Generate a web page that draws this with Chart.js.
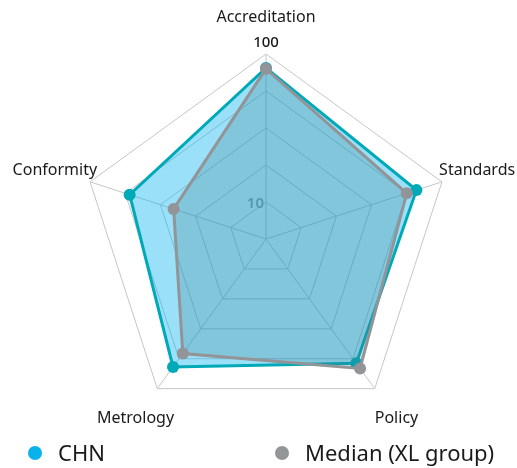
<!DOCTYPE html>
<html>
<head>
<meta charset="utf-8">
<script src="https://cdn.jsdelivr.net/npm/chart.js@4/dist/chart.umd.min.js"></script>
<style>
  html, body { margin: 0; padding: 0; background: #fff; }
  #wrap { position: relative; width: 517px; height: 468px; }
  #legend { position: absolute; left: 0; top: 438px; width: 517px; height: 28px;
            font-family: "Noto Sans", sans-serif; font-size: 22px; color: #1a1a1a; }
  .item { position: absolute; top: 0; height: 28px; line-height: 28px; white-space: nowrap; }
  .dot { display: inline-block; width: 14px; height: 14px; border-radius: 50%;
         vertical-align: middle; margin-right: 16px; position: relative; top: -2px; }
</style>
</head>
<body>
<div id="wrap">
  <canvas id="radar"></canvas>
  <div id="legend"></div>
</div>
<script>
// axes of the web, clockwise from the top
var categories = ['Accreditation', 'Standards', 'Policy', 'Metrology', 'Conformity'];

var chnValues = [92.5, 85.5, 83, 85.5, 77.5];
var medianValues = [92, 80, 86.5, 76.5, 52.5];

// labels written along the top axis
var scaleTickValues = [20, 100];
var scaleTickLabels = ['10', '100'];

var seriesNames = ['CHN', 'Median (XL group)'];
var legendColors = ['#0ab2ec', '#939598'];

// draws the category names and the two scale labels through the r scale
var axisText = {
  id: 'axisText',
  beforeDatasetsDraw: function(chart) {
    var r = chart.scales.r;
    var ctx = chart.ctx;
    ctx.save();
    ctx.textBaseline = 'middle';

    ctx.font = '16px "Noto Sans"';
    ctx.fillStyle = '#1a1a1a';
    ctx.textAlign = 'center';
    categories.forEach(function(name, i) {
      var p = r.getPointPosition(i, r.drawingArea * 1.2);
      ctx.fillText(name, p.x, p.y);
    });

    // inner label sits left of the axis, under the fills
    var p10 = r.getPointPositionForValue(0, scaleTickValues[0]);
    ctx.font = '600 15px "Noto Sans"';
    ctx.fillStyle = '#9a9a9a';
    ctx.textAlign = 'right';
    ctx.fillText(scaleTickLabels[0], p10.x - 2, p10.y + 2);

    // outer label just above the outer ring
    var p100 = r.getPointPosition(0, r.getDistanceFromCenterForValue(scaleTickValues[1]) + 11);
    ctx.font = '500 15px "Noto Sans"';
    ctx.fillStyle = '#1a1a1a';
    ctx.textAlign = 'center';
    ctx.fillText(scaleTickLabels[1], p100.x, p100.y);
    ctx.restore();
  }
};

var chart = new Chart('radar', {
  type: 'radar',
  data: {
    labels: categories,
    datasets: [
      {
        label: seriesNames[0],
        data: chnValues,
        order: 1,
        borderColor: '#00a9b7',
        borderWidth: 3,
        backgroundColor: 'rgba(0,178,238,0.4)',
        fill: true,
        pointRadius: 6,
        pointBorderWidth: 0,
        pointBackgroundColor: '#00a9b7'
      },
      {
        label: seriesNames[1],
        data: medianValues,
        order: 0,
        borderColor: '#929497',
        borderWidth: 3,
        backgroundColor: 'rgba(61,120,136,0.25)',
        fill: true,
        pointRadius: 6,
        pointBorderWidth: 0,
        pointBackgroundColor: '#929497'
      }
    ]
  },
  options: {
    responsive: true,
    maintainAspectRatio: false,
    animation: false,
    layout: { padding: { left: 15, right: 0, top: 54, bottom: 44 } },
    plugins: {
      legend: { display: false },
      tooltip: { enabled: false }
    },
    elements: { line: { tension: 0 } },
    scales: {
      r: {
        min: 0,
        max: 100,
        ticks: { display: false, stepSize: 20 },
        pointLabels: { display: false },
        grid: { color: '#c6c6c6', lineWidth: 1 },
        angleLines: { color: '#c6c6c6', lineWidth: 1 }
      }
    }
  },
  plugins: [axisText]
});

// legend in two columns under the chart
var legend = document.getElementById('legend');
var lefts = [28, 275];
seriesNames.forEach(function(name, i) {
  var item = document.createElement('div');
  item.className = 'item';
  item.style.left = lefts[i] + 'px';
  item.innerHTML = '<span class="dot" style="background:' + legendColors[i] + '"></span>' + name;
  legend.appendChild(item);
});
</script>
</body>
</html>
